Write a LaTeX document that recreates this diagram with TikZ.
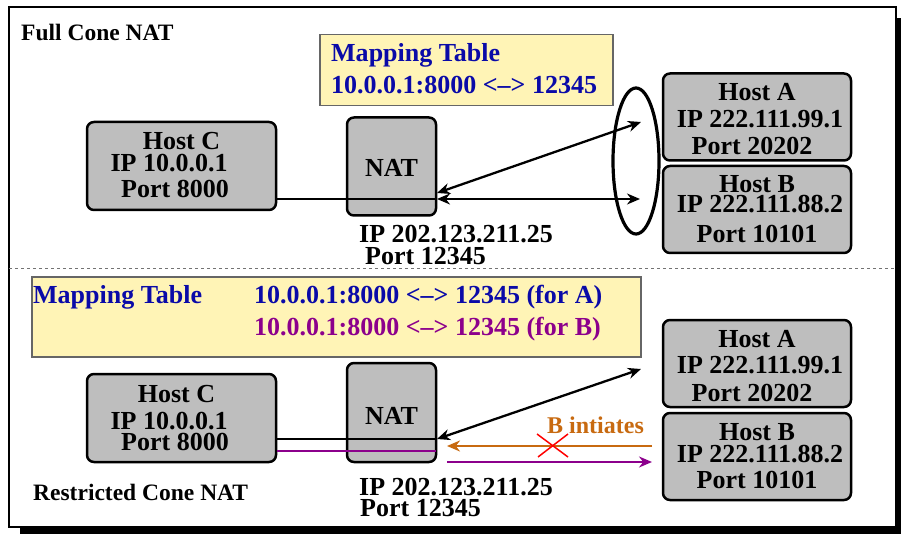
\documentclass[tikz,border=0pt]{standalone}
\usepackage{fontspec}
\setmainfont{Liberation Serif}
\usetikzlibrary{arrows.meta,shapes.geometric}
\definecolor{mblue}{HTML}{0A0AA8}
\definecolor{mpurple}{HTML}{8C008C}
\definecolor{morange}{HTML}{C86A10}
\definecolor{myellow}{HTML}{FFF4B6}
\definecolor{mgray}{HTML}{BEBEBE}
\tikzset{
  hostbox/.style={draw=black, fill=mgray, line width=2.5pt, rounded corners=7pt, inner sep=0pt},
  maptab/.style={draw=black!60, fill=myellow, line width=1.2pt, inner sep=0pt},
  txt/.style={inner sep=0pt, anchor=base, font=\bfseries\fontsize{26}{28}\selectfont},
  ltxt/.style={txt, anchor=base west},
  stxt/.style={inner sep=0pt, anchor=base west, font=\bfseries\fontsize{23.5}{26}\selectfont},
  conn/.style={line width=2.3pt, black},
  tip/.style={-{Stealth[length=13pt,width=11pt]}},
  dtip/.style={{Stealth[length=13pt,width=11pt]}-{Stealth[length=13pt,width=11pt]}},
}
\begin{document}
\begin{tikzpicture}[x=1pt,y=-1pt]
\useasboundingbox (0,0) rectangle (901,534);
% frame with shadow
\fill[black] (20,18) rectangle (901,534);
\draw[line width=2pt, fill=white] (9,7) rectangle (896,527);
\draw[dashed, black!55, line width=0.9pt] (9,268) -- (896,268);

% ---------------- Full Cone NAT ----------------
\node[stxt] (title1) at (21,40.5) {Full Cone NAT};
\node[maptab, minimum width=293pt, minimum height=71pt] (mt1) at (466.5,70) {};
\node[ltxt, text=mblue] (mt1a) at (331,62) {Mapping Table};
\node[ltxt, text=mblue] (mt1b) at (331,94) {10.0.0.1:8000 <–> 12345};

\node[hostbox, minimum width=189pt, minimum height=88pt] (hc1) at (181.5,166) {};
\node[txt] (hc1a) at (181.5,150) {Host C};
\node[txt] (hc1b) at (169,172) {IP 10.0.0.1};
\node[txt] (hc1c) at (175,198) {Port 8000};

\node[hostbox, minimum width=89pt, minimum height=98pt] (nat1) at (391.5,166.5) {};
\node[txt] (nat1t) at (391.5,177) {NAT};
\node[ltxt] (nat1a) at (359,243) {IP 202.123.211.25};
\node[ltxt] (nat1b) at (365,265) {Port 12345};

\node[hostbox, minimum width=188pt, minimum height=87pt] (ha1) at (757,117) {};
\node[txt] (ha1a) at (757,101) {Host A};
\node[txt] (ha1b) at (760,128) {IP 222.111.99.1};
\node[txt] (ha1c) at (752,155) {Port 20202};

\node[hostbox, minimum width=188pt, minimum height=87pt] (hb1) at (757,209.5) {};
\node[txt] (hb1a) at (757,193) {Host B};
\node[txt] (hb1b) at (760,213) {IP 222.111.88.2};
\node[txt] (hb1c) at (757,243) {Port 10101};

\node[draw, ellipse, line width=3.2pt, minimum width=46pt, minimum height=146pt, inner sep=0pt] (ell) at (636,161) {};

\coordinate (n1b) at (437,199);
\coordinate (n1a) at (437,193);
\coordinate (eA) at (641,122);
\coordinate (eB) at (640,199);
\draw[conn] (hc1.east |- n1b) -- (n1b);
\draw[conn, dtip] (n1b) -- (eB);
\draw[conn, dtip] (n1a) -- (eA);

% ---------------- Restricted Cone NAT ----------------
\node[maptab, minimum width=609pt, minimum height=80pt] (mt2) at (336.5,317) {};
\node[ltxt, text=mblue] (mt2a) at (33,303) {Mapping Table};
\node[ltxt, text=mblue] (mt2b) at (254,303) {10.0.0.1:8000 <–> 12345 (for A)};
\node[ltxt, text=mpurple] (mt2c) at (254,335) {10.0.0.1:8000 <–> 12345 (for B)};

\node[hostbox, minimum width=189pt, minimum height=88pt] (hc2) at (181.5,418) {};
\node[txt] (hc2a) at (176.5,402) {Host C};
\node[txt] (hc2b) at (169,429) {IP 10.0.0.1};
\node[txt] (hc2c) at (175,450) {Port 8000};

\node[hostbox, minimum width=89pt, minimum height=99pt] (nat2) at (391.5,412.5) {};
\node[txt] (nat2t) at (391.5,424) {NAT};
\node[ltxt] (nat2a) at (359,495) {IP 202.123.211.25};
\node[ltxt] (nat2b) at (360,516) {Port 12345};

\node[hostbox, minimum width=188pt, minimum height=87pt] (ha2) at (757,363.5) {};
\node[txt] (ha2a) at (757,347) {Host A};
\node[txt] (ha2b) at (760,373) {IP 222.111.99.1};
\node[txt] (ha2c) at (752,401) {Port 20202};

\node[hostbox, minimum width=188pt, minimum height=87pt] (hb2) at (757,456.5) {};
\node[txt] (hb2a) at (757,440) {Host B};
\node[txt] (hb2b) at (760,462) {IP 222.111.88.2};
\node[txt] (hb2c) at (757,488) {Port 10101};

\node[stxt] (title2) at (33,500) {Restricted Cone NAT};

\coordinate (n2a) at (437,439);
\coordinate (n2p) at (436,451);
\coordinate (eA2) at (641,369);
\coordinate (ps) at (447,462);
\coordinate (pe) at (652,462);
\coordinate (os) at (652,446);
\coordinate (oe) at (447,446);
\draw[conn] (hc2.east |- n2a) -- (n2a);
\draw[conn, dtip] (n2a) -- (eA2);
\draw[line width=2.3pt, mpurple] (hc2.east |- n2p) -- (n2p);
\draw[line width=2.3pt, mpurple, tip] (ps) -- (pe);
\draw[line width=2.3pt, morange, tip] (os) -- (oe);
\node[inner sep=0pt, anchor=base west, text=morange, font=\bfseries\fontsize{24}{26}\selectfont] (binit) at (547,433) {B intiates};
\coordinate (x1) at (537,434);
\coordinate (x2) at (568,457);
\coordinate (x3) at (568,434);
\coordinate (x4) at (538,457);
\draw[red, line width=1.5pt] (x1) -- (x2);
\draw[red, line width=1.5pt] (x3) -- (x4);
\end{tikzpicture}
\end{document}
